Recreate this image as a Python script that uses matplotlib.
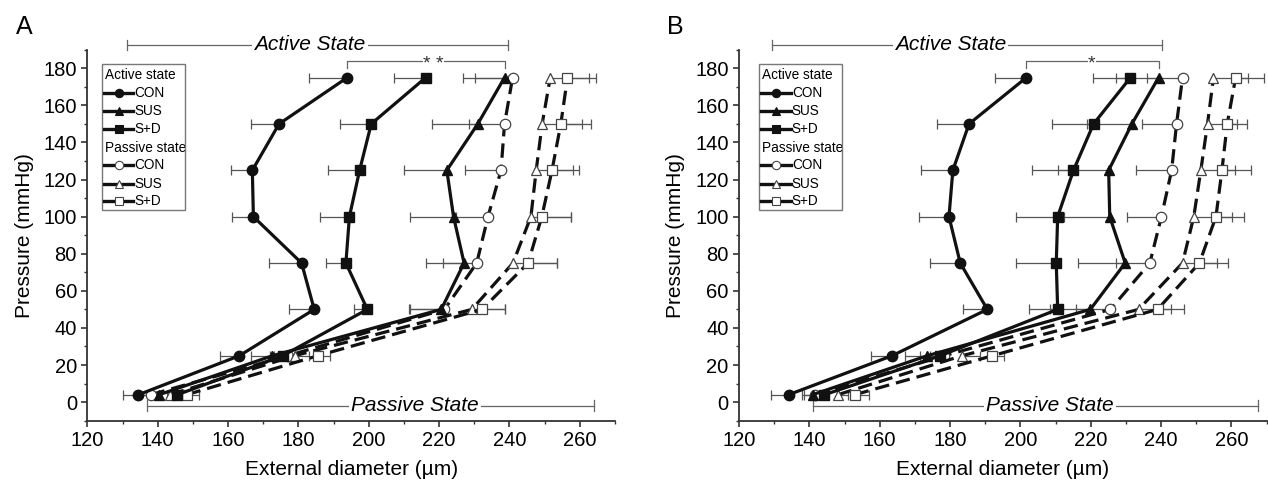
import numpy as np
import matplotlib.pyplot as plt
from matplotlib.lines import Line2D
from matplotlib.patches import Rectangle
from matplotlib.ticker import MultipleLocator

plt.rcParams['font.family'] = ['Liberation Sans', 'DejaVu Sans']

pressure = [4, 25, 50, 75, 100, 125, 150, 175]
groups = ["CON", "SUS", "S+D"]
markers = ["o", "^", "s"]

# panel A, external diameter (um) and SEM
a_con_act = [134.5, 163.2, 184.5, 180.9, 167.2, 166.9, 174.5, 193.9]
a_con_act_err = [4.3, 5.5, 7.1, 9.2, 6.2, 6.1, 8.1, 11.0]
a_sus_act = [140.4, 172.6, 220.6, 227.1, 224.1, 222.2, 231.0, 238.6]
a_sus_act_err = [3.0, 6.1, 9.3, 10.8, 12.5, 12.3, 12.9, 11.8]
a_sd_act = [145.6, 175.5, 199.6, 193.5, 194.5, 197.4, 200.7, 216.2]
a_sd_act_err = [3.0, 3.5, 3.9, 5.6, 8.5, 9.1, 9.0, 9.0]
a_con_pas = [138.0, 177.0, 221.5, 230.7, 233.9, 237.6, 238.6, 240.9]
a_con_pas_err = [3.0, 4.0, 9.7, 9.6, 9.0, 10.2, 10.2, 10.6]
a_sus_pas = [143.5, 178.9, 229.3, 241.0, 246.1, 247.6, 249.3, 251.6]
a_sus_pas_err = [3.0, 4.0, 9.5, 12.5, 11.5, 10.4, 11.3, 11.1]
a_sd_pas = [148.2, 185.5, 232.2, 245.3, 249.2, 252.1, 254.6, 256.5]
a_sd_pas_err = [3.6, 3.5, 6.6, 8.2, 8.4, 7.6, 8.6, 8.1]

# panel B
b_con_act = [134.1, 163.5, 190.6, 182.9, 179.7, 180.8, 185.4, 201.7]
b_con_act_err = [5.1, 6.1, 6.8, 8.6, 8.6, 9.1, 9.2, 8.9]
b_sus_act = [140.9, 173.5, 219.9, 229.8, 225.4, 225.1, 231.7, 239.3]
b_sus_act_err = [3.0, 6.4, 11.4, 13.3, 12.9, 14.3, 12.9, 12.0]
b_sd_act = [144.3, 177.2, 210.6, 210.2, 210.6, 215.1, 220.8, 231.3]
b_sd_act_err = [3.0, 5.7, 8.1, 11.4, 11.8, 11.7, 11.7, 10.6]
b_con_pas = [141.5, 178.3, 225.6, 236.8, 240.1, 243.0, 244.4, 246.1]
b_con_pas_err = [3.0, 4.0, 9.7, 9.5, 9.9, 10.0, 9.7, 10.2]
b_sus_pas = [148.1, 183.4, 233.6, 246.1, 249.3, 251.3, 253.2, 254.9]
b_sus_pas_err = [3.0, 5.0, 9.1, 9.7, 10.9, 9.7, 8.3, 9.7]
b_sd_pas = [152.9, 192.0, 239.0, 250.9, 255.6, 257.3, 258.8, 261.2]
b_sd_pas_err = [4.0, 3.4, 7.4, 8.0, 8.0, 8.2, 5.6, 8.0]

# brackets: (x_left, x_right, text_x)
a_active_bracket = (131.2, 239.6, 183.3)
a_passive_bracket = (137.0, 264.1, 213.2)
a_sig = (193.9, 238.8, 218.4, "* *")
b_active_bracket = (129.3, 240.2, 180.2)
b_passive_bracket = (140.9, 267.6, 208.5)
b_sig = (201.7, 239.5, 220.3, "*")

ERRC = "#555555"
LINEC = "#111111"


def draw_key(ax, x0):
    ys = [0.932, 0.884, 0.835, 0.786, 0.736, 0.688, 0.639, 0.591]
    ax.add_patch(Rectangle((x0 - 0.006, 0.568), 0.158, 0.393, transform=ax.transAxes,
                           fill=False, ec="#777777", lw=1.0, clip_on=False, zorder=5))
    ax.text(x0, ys[0], "Active state", transform=ax.transAxes, fontsize=9.8, va="center")
    ax.text(x0, ys[4], "Passive state", transform=ax.transAxes, fontsize=9.8, va="center")
    for i in range(3):
        for j, filled in ((i + 1, True), (i + 5, False)):
            ax.add_line(Line2D([x0 - 0.0015, x0 + 0.054], [ys[j], ys[j]], transform=ax.transAxes,
                               color=LINEC, lw=2.4, zorder=6))
            ax.add_line(Line2D([x0 + 0.027], [ys[j]], transform=ax.transAxes, marker=markers[i],
                               ms=6, mfc=LINEC if filled else "white",
                               mec=LINEC if filled else "#444444", mew=0.8, zorder=7))
            ax.text(x0 + 0.056, ys[j], groups[i], transform=ax.transAxes, fontsize=9.8, va="center")


def draw_panel(ax, act, act_err, pas, pas_err, active_br, passive_br, sig, letter, keyx):
    p = np.array(pressure)
    for i in range(3):
        e = np.array(act_err[i])
        ax.errorbar(act[i], p, xerr=[e, np.zeros_like(e)], fmt="none", ecolor=ERRC,
                    elinewidth=0.9, capsize=3.5, capthick=0.9, zorder=1)
        e = np.array(pas_err[i])
        xe = [e, np.zeros_like(e)] if i == 0 else [np.zeros_like(e), e]
        ax.errorbar(pas[i], p, xerr=xe, fmt="none", ecolor=ERRC,
                    elinewidth=0.9, capsize=3.5, capthick=0.9, zorder=1)
    for i in range(3):
        ax.plot(pas[i], p, color=LINEC, lw=2.3, dashes=(4.5, 2.2), marker=markers[i], ms=7.5,
                mfc="white", mec="#444444", mew=0.9, zorder=3)
    for i in range(3):
        ax.plot(act[i], p, color=LINEC, lw=2.3, marker=markers[i], ms=7.5,
                mfc=LINEC, mec=LINEC, zorder=4)

    ax.set_xlim(120, 270)
    ax.set_ylim(-10, 190)
    ax.xaxis.set_major_locator(MultipleLocator(20))
    ax.xaxis.set_minor_locator(MultipleLocator(10))
    ax.yaxis.set_major_locator(MultipleLocator(20))
    ax.yaxis.set_minor_locator(MultipleLocator(10))
    for s in ("top", "right"):
        ax.spines[s].set_visible(False)
    for s in ("left", "bottom"):
        ax.spines[s].set_color("#333333")
        ax.spines[s].set_linewidth(1.3)
    ax.tick_params(which="major", direction="out", length=4.5, width=1.2, color="#333333",
                   labelsize=14.5, pad=3)
    ax.tick_params(which="minor", direction="out", length=2.5, width=1.0, color="#333333")
    ax.set_xlabel("External diameter (\u00b5m)", fontsize=15, labelpad=7)
    ax.set_ylabel("Pressure (mmHg)", fontsize=15, labelpad=7)

    # active state bracket
    y = 192.6
    ax.plot(active_br[:2], [y, y], color="#666666", lw=0.9, clip_on=False, zorder=2)
    for xx in active_br[:2]:
        ax.plot([xx, xx], [y - 2.5, y + 2.5], color="#666666", lw=0.9, clip_on=False)
    ax.text(active_br[2], y, "Active State", fontsize=15, style="italic", ha="center",
            va="center", bbox=dict(fc="white", ec="none", pad=1.5), zorder=3, clip_on=False)
    # passive state bracket
    y = -2.0
    ax.plot(passive_br[:2], [y, y], color="#666666", lw=0.9, zorder=2)
    for xx in passive_br[:2]:
        ax.plot([xx, xx], [y - 3, y + 3], color="#666666", lw=0.9)
    ax.text(passive_br[2], y, "Passive State", fontsize=15, style="italic", ha="center",
            va="center", bbox=dict(fc="white", ec="none", pad=1.5), zorder=3)
    # significance bracket
    ax.plot([sig[0], sig[0], sig[1], sig[1]], [180.0, 184.0, 184.0, 180.0], color="#666666",
            lw=0.9, zorder=2)
    ax.text(sig[2], 186.8, sig[3], fontsize=14, ha="center", va="top", color="#333333",
            bbox=dict(fc="white", ec="none", pad=0.3), zorder=3)

    draw_key(ax, keyx)
    ax.text(-0.12, 1.03, letter, transform=ax.transAxes, fontsize=18, va="bottom", ha="center")


fig = plt.figure(figsize=(12.68, 4.86), dpi=100)
axA = fig.add_axes([0.0689, 0.1344, 0.4161, 0.7633])
axB = fig.add_axes([0.5828, 0.1344, 0.4161, 0.7633])

draw_panel(axA, [a_con_act, a_sus_act, a_sd_act], [a_con_act_err, a_sus_act_err, a_sd_act_err],
           [a_con_pas, a_sus_pas, a_sd_pas], [a_con_pas_err, a_sus_pas_err, a_sd_pas_err],
           a_active_bracket, a_passive_bracket, a_sig, "A", 0.033)
draw_panel(axB, [b_con_act, b_sus_act, b_sd_act], [b_con_act_err, b_sus_act_err, b_sd_act_err],
           [b_con_pas, b_sus_pas, b_sd_pas], [b_con_pas_err, b_sus_pas_err, b_sd_pas_err],
           b_active_bracket, b_passive_bracket, b_sig, "B", 0.044)

fig.savefig("out.png", dpi=100)
